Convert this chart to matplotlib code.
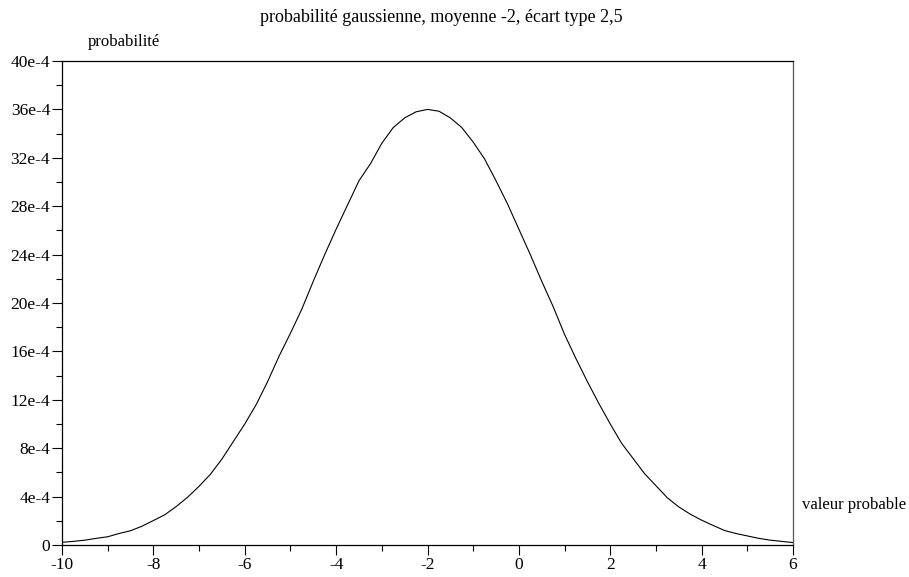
import numpy as np
import matplotlib
matplotlib.use("Agg")
import matplotlib.pyplot as plt

# valeurs (probabilite en unites de 1e-4), pas de 0.25
valeurs_x = np.arange(-10, 6.01, 0.25)
probabilite = [
    0.22, 0.30, 0.40, 0.55, 0.68, 0.95, 1.18, 1.55, 2.02, 2.50, 3.18, 3.95,
    4.85, 5.85, 7.10, 8.55, 10.0, 11.6, 13.5, 15.6, 17.5, 19.5, 21.8, 24.0, 26.1, 28.1,
    30.1, 31.5, 33.2, 34.5, 35.3, 35.8, 36.0, 35.85, 35.3, 34.5, 33.3, 31.9,
    30.1, 28.2, 26.1, 24.0, 21.8, 19.7, 17.4, 15.4, 13.5, 11.7, 10.0, 8.4, 7.15, 5.9,
    4.9, 3.9, 3.15, 2.55, 2.05, 1.62, 1.2, 0.95, 0.75, 0.55, 0.4, 0.3, 0.2,
]

ticks_x = [-10, -8, -6, -4, -2, 0, 2, 4, 6]
ticks_y = [0, 4, 8, 12, 16, 20, 24, 28, 32, 36, 40]
labels_y = ["0"] + [f"{v}e-4" for v in ticks_y[1:]]

plt.rcParams['font.family'] = ['Liberation Serif', 'DejaVu Serif']

fig = plt.figure(figsize=(9.09, 5.77), dpi=100)
ax = fig.add_axes([62 / 909, 32 / 577, 731 / 909, 484 / 577])

ax.plot(valeurs_x, probabilite, color='black', linewidth=0.8)

ax.set_xlim(-10, 6)
ax.set_ylim(0, 40)
ax.set_xticks(ticks_x)
ax.set_xticklabels([str(t) for t in ticks_x])
ax.set_xticks(np.arange(-9, 6, 2), minor=True)
ax.set_yticks(ticks_y)
ax.set_yticklabels(labels_y)
ax.set_yticks(np.arange(2, 40, 4), minor=True)

ax.tick_params(axis='both', which='major', direction='out', length=7, width=0.8,
               labelsize=12.5, pad=1.5)
ax.tick_params(axis='both', which='minor', direction='out', length=4, width=0.8)

for cote in ['left', 'bottom', 'top']:
    ax.spines[cote].set_linewidth(0.9)
    ax.spines[cote].set_color('black')
ax.spines['right'].set_color('#555555')
ax.spines['right'].set_linewidth(0.9)

fig.text(441 / 909, 1 - 17 / 577, "probabilité gaussienne, moyenne -2, écart type 2,5",
         ha='center', va='center', fontsize=13)
fig.text(88 / 909, 1 - 42 / 577, "probabilité", ha='left', va='center', fontsize=12)
fig.text(802 / 909, 1 - 505 / 577, "valeur probable", ha='left', va='center', fontsize=12)

fig.savefig("out.png", dpi=100)
